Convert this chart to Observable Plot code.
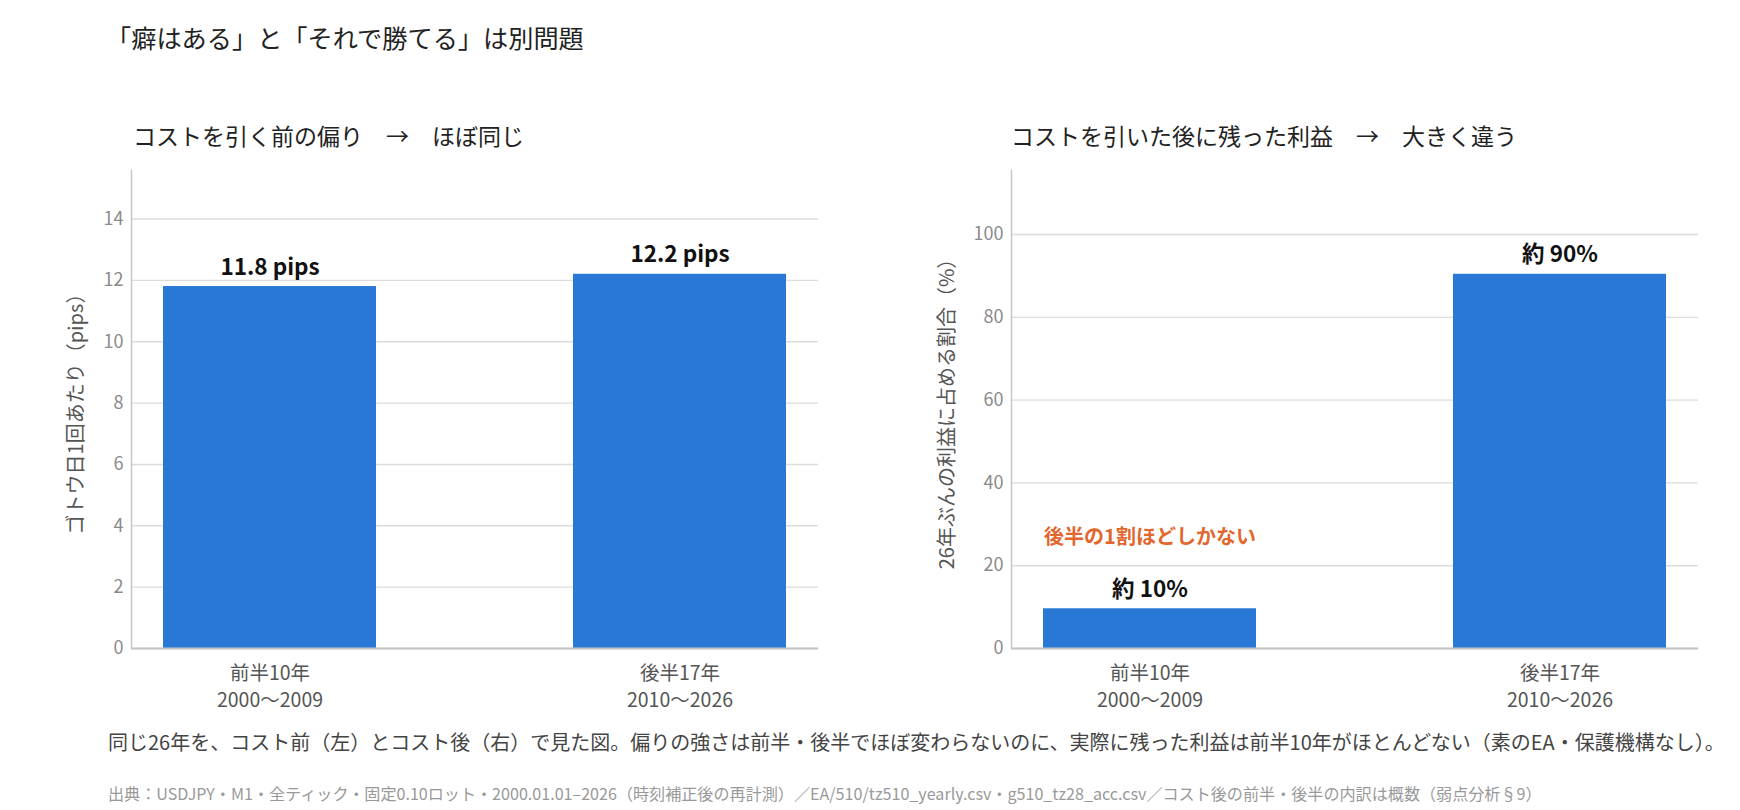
<!DOCTYPE html>
<html lang="ja">
<head>
<meta charset="utf-8">
<script src="https://cdn.jsdelivr.net/npm/d3@7"></script>
<script src="https://cdn.jsdelivr.net/npm/@observablehq/plot@0.6"></script>
<style>
  html, body { margin: 0; padding: 0; background: #fff; }
  body { width: 1740px; height: 810px; position: relative; overflow: hidden;
         font-family: "Noto Sans CJK JP", "Noto Sans", sans-serif; }
  .txt { position: absolute; white-space: nowrap; }
  #title { left: 106px; top: 24px; font-size: 25.2px; line-height: 26px; color: #222; }
  .sub { top: 124px; font-size: 23px; line-height: 23px; color: #222; }
  #subL { left: 133px; }
  #subR { left: 1011px; }
  #caption { left: 108px; top: 732px; font-size: 20px; line-height: 20px; color: #444; }
  #source { left: 108px; top: 785px; font-size: 16.1px; line-height: 16px; color: #999; }
  .chart { position: absolute; top: 160px; }
  #chartL { left: 0px; }
  #chartR { left: 870px; }
</style>
</head>
<body>
<div id="title" class="txt"></div>
<div id="subL" class="txt sub"></div>
<div id="subR" class="txt sub"></div>
<div id="chartL" class="chart"></div>
<div id="chartR" class="chart"></div>
<div id="caption" class="txt"></div>
<div id="source" class="txt"></div>
<script>
// ---- data ----
const categories = ["前半10年\n2000〜2009", "後半17年\n2010〜2026"];
const pipsValues = [11.8, 12.2];
const pipsLabels = ["11.8 pips", "12.2 pips"];
const shareValues = [9.6, 90.4];
const shareLabels = ["約 10%", "約 90%"];
const pipsTicks = [0, 2, 4, 6, 8, 10, 12, 14];
const shareTicks = [0, 20, 40, 60, 80, 100];
const noteText = ["後半の1割ほどしかない"];

const titleText = "「癖はある」と「それで勝てる」は別問題";
const subLeftText = "コストを引く前の偏り　→　ほぼ同じ";
const subRightText = "コストを引いた後に残った利益　→　大きく違う";
const yLabelLeft = "ゴトウ日1回あたり（pips）";
const yLabelRight = "26年ぶんの利益に占める割合（%）";
const captionText = "同じ26年を、コスト前（左）とコスト後（右）で見た図。偏りの強さは前半・後半でほぼ変わらないのに、実際に残った利益は前半10年がほとんどない（素のEA・保護機構なし）。";
const sourceText = "出典：USDJPY・M1・全ティック・固定0.10ロット・2000.01.01–2026（時刻補正後の再計測）／EA/510/tz510_yearly.csv・g510_tz28_acc.csv／コスト後の前半・後半の内訳は概数（弱点分析§9）";

document.getElementById("title").textContent = titleText;
document.getElementById("subL").textContent = subLeftText;
document.getElementById("subR").textContent = subRightText;
document.getElementById("caption").textContent = captionText;
document.getElementById("source").textContent = sourceText;

// ---- styling ----
const BAR = "#2a78d5";
const ORANGE = "#e2662d";
const W = 870, H = 560, MT = 9, MB = 72;
const FONT = "Noto Sans CJK JP";

function makeChart({values, labels, ticks, yLabel, marginLeft, marginRight, yLabelDx, note}) {
  const rows = categories.map((c, i) => ({cat: c, value: values[i], label: labels[i]}));
  const fw = W - marginLeft - marginRight;
  const fh = H - MT - MB;
  const marks = [
    Plot.gridY(ticks, {stroke: "#dcdcdc", strokeOpacity: 1, strokeWidth: 1.4}),
    Plot.barY(rows, {x: "cat", y: "value", fill: BAR}),
    Plot.ruleY([0], {stroke: "#c4c4c4", strokeWidth: 2}),
    Plot.frame({stroke: "#c8c8c8", strokeWidth: 1.5, strokeDasharray: `0 ${2 * fw + fh} ${fh}`}),
    Plot.axisY({ticks, tickSize: 0, tickPadding: 8, fontSize: 18, color: "#8a8a8a", label: null}),
    Plot.axisX({tickSize: 0, tickPadding: 12, fontSize: 19.5, lineHeight: 1.4, color: "#555", label: null}),
    Plot.text(rows, {x: "cat", y: "value", text: "label", dy: -12, lineAnchor: "bottom",
                     fontSize: 22.5, fontWeight: "bold", fill: "#111"}),
    Plot.text([yLabel], {frameAnchor: "left", textAnchor: "middle", rotate: -90, dx: yLabelDx,
                         fontSize: 20, fill: "#555"})
  ];
  if (note) {
    marks.push(Plot.text([rows[0]], {x: "cat", y: "value", text: () => note[0], dy: -65, lineAnchor: "bottom",
                                     fontSize: 20, fontWeight: "bold", fill: ORANGE}));
  }
  return Plot.plot({
    width: W, height: H,
    marginLeft, marginRight, marginTop: MT, marginBottom: MB,
    style: {fontFamily: FONT, background: "white", overflow: "visible"},
    x: {domain: categories, paddingInner: 0.48, paddingOuter: 0.076, label: null},
    y: {domain: [0, d3.max(values) * 1.28], label: null},
    marks
  });
}

document.getElementById("chartL").append(makeChart({
  values: pipsValues, labels: pipsLabels, ticks: pipsTicks, yLabel: yLabelLeft,
  marginLeft: 131, marginRight: 52, yLabelDx: -55
}));
document.getElementById("chartR").append(makeChart({
  values: shareValues, labels: shareLabels, ticks: shareTicks, yLabel: yLabelRight,
  marginLeft: 141, marginRight: 42, yLabelDx: -64, note: noteText
}));
</script>
</body>
</html>
